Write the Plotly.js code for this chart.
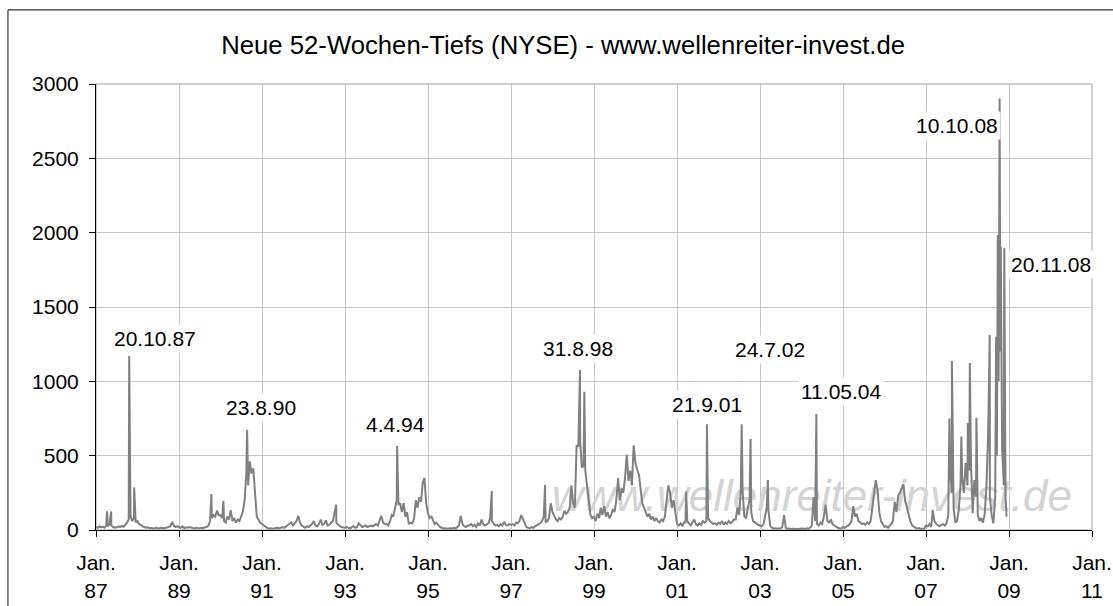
<!DOCTYPE html>
<html>
<head>
<meta charset="utf-8">
<script src="https://cdn.plot.ly/plotly-3.0.1.min.js"></script>
<style>
  html, body { margin: 0; padding: 0; background: #ffffff; }
  #chart { width: 1113px; height: 606px; }
</style>
</head>
<body>
<div id="chart"></div>
<script>
// ---- Data (half-monthly readings: 1st and 16th of each month) ----
const v1987 = [20,15,25,18,22,15,30,25,40,30,20,15,18,25,20,28,22,35,50,70,90,60,80,50];
const v1988 = [60,40,30,25,20,15,18,12,15,10,12,15,10,12,15,10,12,15,20,25,55,30,20,25];
const v1989 = [20,15,25,12,18,15,20,15,12,10,15,12,10,15,12,18,20,30,60,80,100,90,130,100];
const v1990 = [100,80,60,50,90,70,134,60,80,50,70,60,90,120,200,383,300,462,380,415,250,90,70,50];
const v1991 = [40,30,20,15,10,12,8,10,12,15,10,15,20,15,25,30,40,50,30,45,60,95,50,30];
const v1992 = [20,15,25,20,30,40,60,30,25,40,70,35,40,65,30,35,50,60,120,50,35,25,20,15];
const v1993 = [15,20,15,10,20,25,15,20,45,30,20,25,30,20,25,30,25,35,40,30,60,95,50,40];
const v1994 = [40,30,60,100,90,150,200,170,180,120,180,90,120,40,50,45,80,200,150,220,190,320,350,180];
const v1995 = [110,80,90,60,40,50,30,20,15,10,12,8,10,12,8,15,10,20,30,95,40,25,20,30];
const v1996 = [30,40,25,35,20,45,30,70,40,30,35,45,80,60,40,30,35,25,40,30,55,35,30,40];
const v1997 = [35,40,30,50,45,60,100,70,40,20,15,12,20,15,25,35,40,45,60,90,50,60,80,180];
const v1998 = [120,90,70,60,80,70,90,130,110,120,150,300,180,150,570,560,600,420,430,400,290,220,100,80];
const v1999 = [90,60,110,80,150,100,160,90,120,80,100,140,120,200,350,200,280,250,350,505,330,400,300,570];
const v2000 = [450,405,370,270,180,150,120,90,110,70,90,60,80,60,50,70,60,90,200,300,250,150,200,120];
const v2001 = [40,30,45,25,50,50,60,40,30,50,70,40,30,45,35,60,50,60,80,60,50,40,45,35];
const v2002 = [50,40,60,35,50,40,60,45,55,70,70,150,100,260,260,90,80,150,200,120,60,50,40,35];
const v2003 = [30,25,40,100,150,130,30,15,10,12,8,10,12,20,100,15,8,10,6,8,5,7,6,8];
const v2004 = [8,10,6,12,8,15,30,220,60,40,30,50,40,90,170,60,50,70,40,30,20,15,12,10];
const v2005 = [20,15,25,30,40,60,160,90,110,60,50,40,45,35,50,40,60,150,220,335,265,120,60,40];
const v2006 = [20,25,15,30,40,60,190,120,230,250,280,309,200,150,90,60,30,20,15,10,12,8,10,8];
const v2007 = [30,25,40,20,135,60,40,30,25,35,40,30,45,100,400,250,150,50,60,135,300,350,250,450];
const v2008 = [300,400,450,113,336,224,100,60,80,50,110,300,650,224,100,45,224,500,1000,1200,550,300,224];

// Single-day spikes (peaks)
const eventDates = ['1987-04-08','1987-05-14','1987-10-20','1987-12-03','1989-10-13','1990-01-26',
  '1990-08-23','1992-10-15','1994-04-04','1996-07-15','1997-10-27','1998-08-31','1998-10-08',
  '2001-03-22','2001-09-21','2002-07-24','2002-10-10','2003-03-11','2004-05-11','2007-07-26',
  '2007-08-17','2007-11-08','2008-01-04','2008-01-22','2008-03-20','2008-07-15','2008-09-09',
  '2008-09-24','2008-10-07','2008-10-10','2008-10-20','2008-11-20','2008-12-10'];
const eventValues = [125,125,1170,285,242,197,
  672,170,565,262,303,1076,930,
  258,711,711,612,336,780,750,
  1136,628,719,1123,755,1311,1300,
  1984,2200,2903,1905,1896,90];

// Labels
const titleText = 'Neue 52-Wochen-Tiefs (NYSE) - www.wellenreiter-invest.de';
const tickYears = [1987,1989,1991,1993,1995,1997,1999,2001,2003,2005,2007,2009,2011];
const labelTexts = ['20.10.87','23.8.90','4.4.94','31.8.98','21.9.01','24.7.02','11.05.04','10.10.08','20.11.08'];
const labelDates = ['1988-06-06','1990-12-22','1994-03-20','1998-08-12','2001-09-22','2003-04-03','2004-12-22','2007-09-28','2010-01-09'];
const labelValues = [1291,827,713,1224,847,1211,935,2724,1789];
const watermark = 'www.wellenreiter-invest.de';

// ---- Build series ----
const yearArrays = [v1987,v1988,v1989,v1990,v1991,v1992,v1993,v1994,v1995,v1996,v1997,v1998,
  v1999,v2000,v2001,v2002,v2003,v2004,v2005,v2006,v2007,v2008];
const pts = [];
yearArrays.forEach((arr, k) => {
  const yr = 1987 + k;
  arr.forEach((v, i) => {
    const m = Math.floor(i / 2) + 1;
    const d = (i % 2) ? '16' : '01';
    pts.push([yr + '-' + String(m).padStart(2, '0') + '-' + d, v]);
  });
});
eventDates.forEach((d, i) => pts.push([d, eventValues[i]]));
pts.sort((a, b) => (a[0] < b[0] ? -1 : a[0] > b[0] ? 1 : 0));
const xs = pts.map(p => p[0]);
const ys = pts.map(p => p[1]);

const FONT = 'Liberation Sans, Arial, sans-serif';

const traces = [
  {
    x: ['2004-04-02'], y: [200], mode: 'text', text: ['<i>' + watermark + '</i>'],
    textfont: { family: FONT, size: 44, color: '#d4d4d4' },
    hoverinfo: 'skip', showlegend: false, cliponaxis: false
  },
  {
    x: xs, y: ys, mode: 'lines', type: 'scatter',
    line: { color: '#808080', width: 2 },
    hoverinfo: 'skip', showlegend: false
  }
];

const annotations = labelTexts.map((t, i) => ({
  x: labelDates[i], y: labelValues[i], xref: 'x', yref: 'y',
  text: t, showarrow: false, bgcolor: '#ffffff', borderpad: 2,
  font: { family: FONT, size: 21, color: '#000000' }
}));

const layout = {
  width: 1113, height: 606,
  margin: { l: 96, r: 21, t: 84, b: 76 },
  paper_bgcolor: '#ffffff', plot_bgcolor: '#ffffff',
  showlegend: false,
  title: {
    text: titleText, xref: 'container', yref: 'container',
    x: 0.506, xanchor: 'center', y: 0.925, yanchor: 'middle',
    font: { family: FONT, size: 25.7, color: '#000000' }
  },
  xaxis: {
    type: 'date',
    range: ['1987-01-01', '2011-01-01'],
    tickmode: 'array',
    tickvals: tickYears.map(y => y + '-01-01'),
    ticktext: tickYears.map(y => 'Jan.<br>' + String(y).slice(2)),
    ticks: 'outside', ticklen: 6, tickcolor: '#000000', tickwidth: 1,
    showgrid: true, gridcolor: '#c8c8c8', gridwidth: 1,
    showline: true, linecolor: '#000000', linewidth: 1,
    zeroline: false, tickangle: 0,
    tickfont: { family: FONT, size: 21, color: '#000000' },
    ticklabelstandoff: 8,
    fixedrange: true
  },
  yaxis: {
    range: [0, 3000], tickmode: 'linear', tick0: 0, dtick: 500,
    ticks: 'outside', ticklen: 6, tickcolor: '#000000', tickwidth: 1,
    showgrid: true, gridcolor: '#c8c8c8', gridwidth: 1,
    showline: true, linecolor: '#000000', linewidth: 1,
    zeroline: false,
    tickfont: { family: FONT, size: 21, color: '#000000' },
    ticklabelstandoff: 6,
    fixedrange: true
  },
  shapes: [
    { type: 'rect', xref: 'paper', yref: 'paper', x0: 0, x1: 1, y0: 0, y1: 1,
      line: { color: '#a0a0a0', width: 1 }, layer: 'below' },
    { type: 'line', xref: 'paper', yref: 'paper', x0: -0.0884, x1: -0.0884, y0: -0.3, y1: 1.166,
      line: { color: '#333333', width: 1.2 }, layer: 'above' },
    { type: 'line', xref: 'paper', yref: 'paper', x0: -0.0884, x1: 1.2, y0: 1.166, y1: 1.166,
      line: { color: '#333333', width: 1.2 }, layer: 'above' }
  ],
  annotations: annotations
};

Plotly.newPlot('chart', traces, layout, { displayModeBar: false, staticPlot: true });
</script>
</body>
</html>
